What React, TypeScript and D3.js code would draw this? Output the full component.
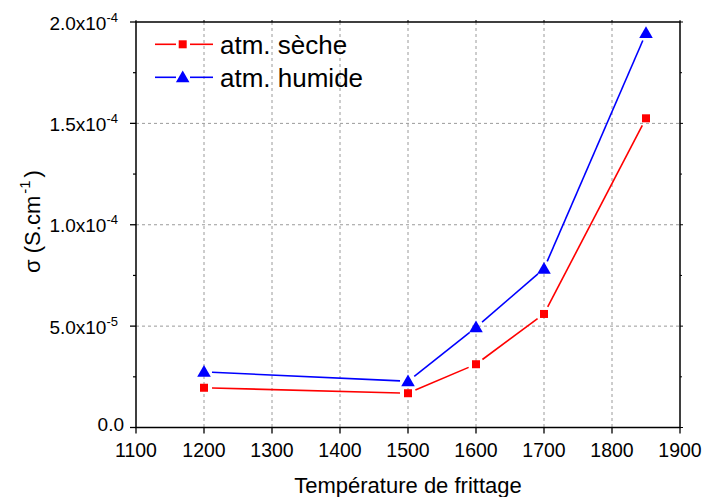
import React from "react";
import * as d3 from "d3";

const temps = [1200, 1500, 1600, 1700, 1850];
const seche = [1.96e-5, 1.69e-5, 3.12e-5, 5.6e-5, 1.525e-4];
const humide = [2.74e-5, 2.28e-5, 4.94e-5, 7.83e-5, 1.945e-4];
const xTicks = [1100, 1200, 1300, 1400, 1500, 1600, 1700, 1800, 1900];
const yTicks = [0, 5e-5, 1e-4, 1.5e-4, 2e-4];
const yTickMantissa = ["0.0", "5.0", "1.0", "1.5", "2.0"];
const yTickExp = ["", "-5", "-4", "-4", "-4"];
const yMinor = [2.5e-5, 7.5e-5, 1.25e-4, 1.75e-4];
const seriesNames = ["atm. sèche", "atm. humide"];
const seriesColors = ["#ff0000", "#0000ff"];

const W = 704, H = 497;
const M = { left: 136, right: 680, top: 22, bottom: 427.5 };
const FONT = "'Liberation Sans', Arial, sans-serif";

function gappedSegments(pts: [number, number][], gap: number) {
  const segs: [number, number, number, number][] = [];
  for (let i = 0; i < pts.length - 1; i++) {
    const [x1, y1] = pts[i];
    const [x2, y2] = pts[i + 1];
    const dx = x2 - x1, dy = y2 - y1;
    const L = Math.hypot(dx, dy);
    if (L <= 2 * gap) continue;
    const ux = dx / L, uy = dy / L;
    segs.push([x1 + ux * gap, y1 + uy * gap, x2 - ux * gap, y2 - uy * gap]);
  }
  return segs;
}

function Marker({ kind, x, y, color }: { kind: number; x: number; y: number; color: string }) {
  if (kind === 0) {
    return <rect x={x - 4} y={y - 4} width={8} height={8} fill={color} />;
  }
  const tri = d3.symbol(d3.symbolTriangle, 80)();
  return <path d={tri || ""} transform={`translate(${x},${y + 1})`} fill={color} />;
}

export default function App() {
  const x = d3.scaleLinear().domain([1100, 1900]).range([M.left, M.right]);
  const y = d3.scaleLinear().domain([0, 2e-4]).range([M.bottom, M.top]);
  const series = [seche, humide];

  return (
    <svg
      width={W}
      height={H}
      style={{ position: "absolute", left: 0, top: 0, background: "#fff" }}
      fontFamily={FONT}
    >
      <rect width={W} height={H} fill="#fff" />
      {/* grid */}
      {xTicks.slice(1, -1).map((t) => (
        <line key={"gx" + t} x1={x(t)} x2={x(t)} y1={M.top} y2={M.bottom} stroke="#9a9a9a" strokeWidth={1} strokeDasharray="3,3" />
      ))}
      {yTicks.slice(1, -1).map((t) => (
        <line key={"gy" + t} x1={M.left} x2={M.right} y1={y(t)} y2={y(t)} stroke="#9a9a9a" strokeWidth={1} strokeDasharray="3,3" />
      ))}
      {/* series */}
      {series.map((vals, si) => {
        const pts: [number, number][] = temps.map((t, i) => [x(t), y(vals[i])]);
        return (
          <g key={"s" + si}>
            {gappedSegments(pts, 8).map((s, i) => (
              <line key={i} x1={s[0]} y1={s[1]} x2={s[2]} y2={s[3]} stroke={seriesColors[si]} strokeWidth={1.6} />
            ))}
            {pts.map((p, i) => (
              <Marker key={"m" + i} kind={si} x={p[0]} y={p[1]} color={seriesColors[si]} />
            ))}
          </g>
        );
      })}
      {/* frame */}
      <rect x={M.left} y={M.top} width={M.right - M.left} height={M.bottom - M.top} fill="none" stroke="#000" strokeWidth={1.5} />
      {/* x ticks */}
      {xTicks.map((t) => (
        <g key={"xt" + t}>
          <line x1={x(t)} x2={x(t)} y1={M.bottom} y2={M.bottom + 6} stroke="#000" strokeWidth={1.3} />
          <line x1={x(t)} x2={x(t)} y1={M.top} y2={M.top - 2} stroke="#000" strokeWidth={1} />
          <text x={x(t)} y={457} fontSize={19.5} textAnchor="middle" fill="#000">{t}</text>
        </g>
      ))}
      {/* y ticks */}
      {yTicks.map((t, i) => (
        <g key={"yt" + t}>
          <line x1={M.left - 6} x2={M.left} y1={y(t)} y2={y(t)} stroke="#000" strokeWidth={1.3} />
          <line x1={M.right} x2={M.right + 3} y1={y(t)} y2={y(t)} stroke="#000" strokeWidth={1} />
          <text x={yTickExp[i] ? 118 : 124} y={y(t) + (yTickExp[i] ? 7.5 : 3.5)} fontSize={19} textAnchor="end" fill="#000">
            {yTickMantissa[i]}
            {yTickExp[i] ? "x10" : ""}
            {yTickExp[i] ? (
              <tspan fontSize={13} dy={-8}>{yTickExp[i]}</tspan>
            ) : null}
          </text>
        </g>
      ))}
      {yMinor.map((t) => (
        <g key={"ym" + t}>
          <line x1={M.left - 3} x2={M.left} y1={y(t)} y2={y(t)} stroke="#000" strokeWidth={1.2} />
          <line x1={M.right} x2={M.right + 2} y1={y(t)} y2={y(t)} stroke="#000" strokeWidth={1} />
        </g>
      ))}
      {/* axis titles */}
      <text x={(M.left + M.right) / 2} y={492.5} fontSize={22} textAnchor="middle" fill="#000">Température de frittage</text>
      <text transform={`translate(40,221.5) rotate(-90)`} fontSize={22} textAnchor="middle" fill="#000">
        σ (S.cm<tspan fontSize={15} dx={2} dy={-10}>-1</tspan><tspan dx={3} dy={10}>)</tspan>
      </text>
      {/* legend */}
      {seriesNames.map((name, i) => {
        const ly = 44.3 + i * 33;
        return (
          <g key={"lg" + i}>
            <line x1={155} x2={176} y1={ly} y2={ly} stroke={seriesColors[i]} strokeWidth={1.6} />
            <line x1={190} x2={213} y1={ly} y2={ly} stroke={seriesColors[i]} strokeWidth={1.6} />
            <Marker kind={i} x={182.7} y={ly} color={seriesColors[i]} />
            <text x={220} y={ly + 9.8} fontSize={26} fill="#000">{name}</text>
          </g>
        );
      })}
    </svg>
  );
}
